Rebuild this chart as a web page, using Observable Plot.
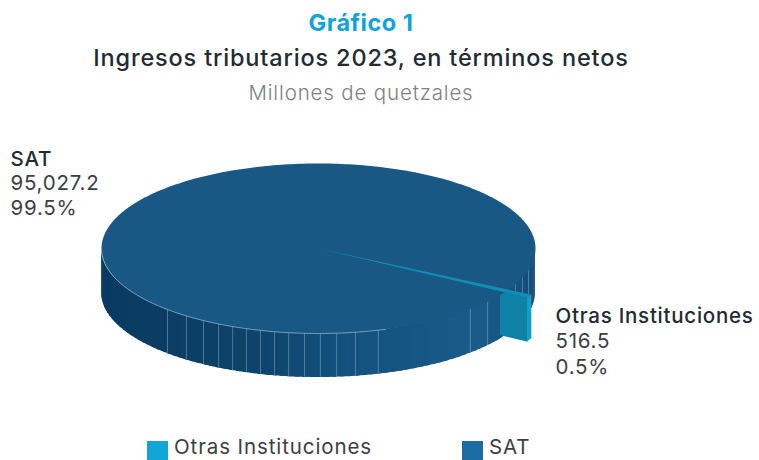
<!DOCTYPE html>
<html><head><meta charset="utf-8">
<script src="https://cdn.jsdelivr.net/npm/d3@7"></script>
<script src="https://cdn.jsdelivr.net/npm/@observablehq/plot@0.6"></script>
<style>
html,body{margin:0;padding:0;background:#fff;width:759px;height:460px;overflow:hidden;font-family:Inter,"Noto Sans",sans-serif}
.t{position:absolute;left:0;width:722px;text-align:center;white-space:nowrap;line-height:1}
#t1{top:11px;font-size:23.5px;font-weight:700;color:#0fa3dc;letter-spacing:.5px}
#t2{top:46px;font-size:23.5px;font-weight:500;color:#222b33;letter-spacing:.84px}
#t3{top:83px;font-size:20.5px;font-weight:300;color:#7d8186;letter-spacing:.85px}
#chart{position:absolute;left:0;top:110px}
#chart text{letter-spacing:.75px}
.sw{position:absolute;top:441px;width:21px;height:19px}
.lg{position:absolute;top:437px;font-size:20.5px;color:#3a3f44;line-height:20px;font-weight:400;white-space:nowrap;letter-spacing:.9px}
</style></head><body>
<div class="t" id="t1">Gráfico 1</div>
<div class="t" id="t2">Ingresos tributarios 2023, en términos netos</div>
<div class="t" id="t3">Millones de quetzales</div>
<div id="chart"></div>
<div class="sw" style="left:147px;background:#0fa6d6"></div><div class="lg" style="left:174px">Otras Instituciones</div>
<div class="sw" style="left:462px;background:#1a6ca3"></div><div class="lg" style="left:489px">SAT</div>
<script>
// data
const categories = ["Otras Instituciones", "SAT"];
const amounts = [516.5, 95027.2];
const amountLabels = ["516.5", "95,027.2"];
const shareLabels = ["0.5%", "99.5%"];
// drawing parameters for the pseudo-3D disc
const W = 759, H = 320, R = 217, CX = 318, CY = 138;
const tilt = 85 / 217, depth = 44 / 217, explode = 1.124, startDeg = 29, cutGap = 2;
const frontSeams = [134.1,127.5,122,117.4,113.3,109.4,105.5,101.7,97.9,93.7,89.5,85.2,80.2,74,45.6,38.8];
const backSeams = [24.8,20,14.5];

const total = d3.sum(amounts);
const endDeg = startDeg + Math.max(2, 360 * amounts[0] / total);
const rad = d => d * Math.PI / 180;
const px = (d, r = 1) => r * Math.cos(rad(d));
const py = (d, r = 1) => r * Math.sin(rad(d)) * tilt;
const steps = (a, b, s) => d3.range(a, b, s).concat([b]);

const disc = steps(0, 360, 1).map(d => ({x: px(d), y: py(d)}));
function wall(a, b, r) {
  const out = [];
  const ks = steps(a, b, 2);
  ks.slice(0, -1).forEach((d, i) => {
    const e = Math.min(b, ks[i + 1] + 1.2);
    [d, e].forEach(t => out.push({seg: i, t: px(d + 1), x: px(t, r), y1: py(t, r), y2: py(t, r) + depth}));
  });
  return out;
}
const backWall = wall(0, startDeg + 6, 1);
const frontWall = wall(endDeg + cutGap, 180, 1);
const seamRow = d => ({x: px(d), y1: py(d), y2: py(d) + depth});
const rimLine = steps(72, 180, 1).map(d => ({x: px(d), y: py(d)}));

const tipA = {x: px(endDeg, explode), y: py(endDeg, explode)};
const face = [{x:0,y:0},{x:tipA.x,y:tipA.y},{x:tipA.x,y:tipA.y+depth},{x:0,y:depth}];
const sliceRim = steps(startDeg, endDeg, 0.5).map(d => ({x: px(d, explode), y1: py(d, explode), y2: py(d, explode) + depth}));
const sliceTop = [{x:0,y:0}].concat(steps(startDeg, endDeg, 0.5).map(d => ({x: px(d, explode), y: py(d, explode)})));

const label = (text, dx, dy, fontWeight, fill) => Plot.text([text], {
  text: d => d, frameAnchor: "top-left", textAnchor: "start", lineAnchor: "bottom",
  dx, dy, fontSize: 20.5, fontWeight, fill, fontFamily: "Inter, sans-serif"
});
const seamStyle = {x: "x", y1: "y1", y2: "y2", stroke: "#9fbdd2", strokeOpacity: 0.45, strokeWidth: 1};

const plot = Plot.plot({
  width: W, height: H, margin: 0,
  x: {axis: null, domain: [-CX / R, (W - CX) / R], range: [0, W]},
  y: {axis: null, domain: [-CY / R, (H - CY) / R], range: [0, H]},
  color: {type: "linear", domain: [-1, -0.35, 0.1, 0.75, 1], range: ["#0a3a5f", "#0d4269", "#13507d", "#1a5b8a", "#134c78"], legend: false},
  marks: [
    Plot.area(backWall, {x1: "x", y1: "y1", y2: "y2", z: "seg", fill: "t"}),
    Plot.ruleX(backSeams.map(seamRow), seamStyle),
    Plot.line(face, {x: "x", y: "y", fill: "#0f80a6", stroke: "none"}),
    Plot.area(sliceRim, {x1: "x", y1: "y1", y2: "y2", fill: "#12a0c6"}),
    Plot.area(frontWall, {x1: "x", y1: "y1", y2: "y2", z: "seg", fill: "t"}),
    Plot.ruleX(frontSeams.map(seamRow), seamStyle),
    Plot.line(disc, {x: "x", y: "y", fill: "#195885", stroke: "none"}),
    Plot.line(rimLine, {x: "x", y: "y", stroke: "#a9c4d6", strokeOpacity: 0.8, strokeWidth: 0.8}),
    Plot.line(sliceTop, {x: "x", y: "y", fill: "#0f8fb8", stroke: "none"}),
    label(categories[1], 10, 55, 500, "#222b33"),
    label(amountLabels[1], 10, 79, 400, "#3a3f44"),
    label(shareLabels[1], 10, 104, 400, "#3a3f44"),
    label(categories[0], 555, 212, 500, "#222b33"),
    label(amountLabels[0], 555, 237, 400, "#3a3f44"),
    label(shareLabels[0], 555, 263, 400, "#3a3f44")
  ]
});
document.getElementById("chart").append(plot);
</script>
</body></html>
